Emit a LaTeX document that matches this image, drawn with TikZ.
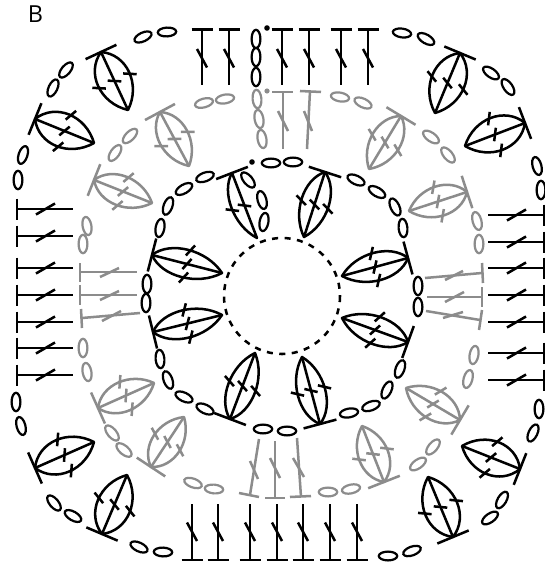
\documentclass[tikz,border=0pt]{standalone}
\usepackage{fontspec}
\setmainfont{Open Sans}
\definecolor{gr}{HTML}{8C8C8C}
\tikzset{
  inkline/.style={line width=2.15pt,line join=round},
  blk/.style={inkline,draw=black},
  gry/.style={inkline,draw=gr},
}
% base x,y ; tip x,y ; bulge ; style
\newcommand\leafmark[6]{%
  \pgfmathsetmacro\lang{atan2(#2-#4,#3-#1)}%
  \pgfmathsetmacro\llen{veclen(#3-#1,#4-#2)}%
  \pgfmathsetmacro\lctl{#5*1.333}%
  \begin{scope}[shift={(#1,#2)},rotate=\lang]
    \draw[#6] (0,0) .. controls (.2*\llen,\lctl) and (.72*\llen,\lctl) .. (\llen,0)
                    .. controls (.72*\llen,-\lctl) and (.2*\llen,-\lctl) .. cycle;
    \draw[#6] (0,0) -- (\llen,0);
    \draw[#6] (0,-17) -- (0,17);
    \foreach \s in {-1,0,1}{
      \draw[#6] (.5*\llen-3.2,\s*#5+6) -- (.5*\llen+3.2,\s*#5-6);
    }
  \end{scope}}
% half leaf: one arc, the main line, bar and two ticks
\newcommand\halfleaf[6]{%
  \pgfmathsetmacro\lang{atan2(#2-#4,#3-#1)}%
  \pgfmathsetmacro\llen{veclen(#3-#1,#4-#2)}%
  \pgfmathsetmacro\lctl{#5*1.333}%
  \begin{scope}[shift={(#1,#2)},rotate=\lang]
    \draw[#6] (0,0) .. controls (.2*\llen,\lctl) and (.72*\llen,\lctl) .. (\llen,0) -- cycle;
    \draw[#6] (0,-17) -- (0,17);
    \foreach \s in {0,1}{
      \draw[#6] (.5*\llen-3.2,\s*#5+6) -- (.5*\llen+3.2,\s*#5-6);
    }
  \end{scope}}
% screen-angle ovals
\newcommand\ovals[2]{%
  \foreach \x/\y/\a in {#2}{
    \draw[#1,line width=1.9pt,shift={(\x,\y)},rotate=-\a] (0,0) ellipse (9.2 and 4.4);
  }}
\begin{document}
\begin{tikzpicture}[x=0.03cm,y=-0.03cm]
\useasboundingbox (0,0) rectangle (545,564);
\node[anchor=center,font=\fontsize{20}{24}\selectfont,inner sep=0pt] (label) at (35.5,14.5) {B};

% dashed central ring
\draw[blk,dash pattern=on 5.2pt off 5.5pt] (282,296) circle (58);

% black leaves
\leafmark{101}{52}{128}{110}{17}{blk}
\leafmark{35}{119}{94}{143}{17}{blk}
\leafmark{460}{53}{435}{113}{17}{blk}
\leafmark{525}{123}{465}{146}{17}{blk}
\leafmark{35}{468}{94}{442}{17}{blk}
\leafmark{102}{534}{127}{475}{17}{blk}
\leafmark{520}{469}{462}{446}{17}{blk}
\leafmark{453}{537}{428}{477}{17}{blk}
% grey leaves
\leafmark{160}{112}{189}{166}{15}{gry}
\leafmark{94}{180}{152}{203}{15}{gry}
\leafmark{401}{116}{369}{169}{15}{gry}
\leafmark{467}{192}{409}{211}{15}{gry}
\leafmark{98}{408}{154}{383}{15}{gry}
\leafmark{151}{467}{184}{417}{15}{gry}
\leafmark{460}{420}{406}{388}{15}{gry}
\leafmark{384}{482}{362}{426}{15}{gry}
% inner leaves
\leafmark{152}{255}{222}{273}{14}{blk}
\halfleaf{232}{173}{257}{238}{13}{blk}
\leafmark{325}{172}{304}{237}{14}{blk}
\leafmark{408}{258}{342}{276}{14}{blk}
\leafmark{153}{332}{222}{315}{14}{blk}
\leafmark{230}{419}{255}{353}{14}{blk}
\leafmark{408}{342}{342}{318}{14}{blk}
\leafmark{320}{424}{302}{357}{14}{blk}

% chain ovals
\ovals{black}{143/37/-25,167/32/-3,66/70/-50,53/88/-65,23/155/-72,18/180/90,
  256/39/90,256/57/90,256/77/90,402/33/8,426/39/30,491/73/35,508/87/55,537/166/75,541/190/90,
  16/402/90,21/426/75,54/503/50,73/516/30,139/547/25,163/552/2,
  388/556/0,412/551/-20,490/518/-35,502/500/-60,533/433/-65,539/409/90,
  271/163/0,293/162/0,205/177/-20,184/189/-30,168/206/-70,160/228/-80,147/284/90,146/303/90,
  248/180/50,262/200/75,264/222/100,
  356/180/25,377/192/30,395/207/65,403/228/85,418/286/90,418/307/90,
  160/359/85,168/380/70,184/397/25,205/409/25,263/429/0,287/431/0,
  349/413/-10,371/406/-20,387/390/-65,400/369/-70}
\ovals{gr}{204/103/-15,225/99/-10,115/153/-55,130/136/-45,87/226/80,83/244/90,
  257/99/85,259/119/80,262/139/80,
  340/97/10,363/103/25,431/137/35,448/155/50,477/221/75,479/244/90,
  83/348/90,87/372/80,112/433/50,124/450/40,193/483/20,214/489/5,
  328/492/0,351/489/-12,418/464/-35,433/447/-50,468/379/-75,474/355/-80}
\fill[black] (267,28) circle (2.8);
\fill[black] (252,162) circle (2.8);
\fill[gr] (267,91) circle (2.6);

% black stitches: top and bottom rows
\foreach \x in {202,229,282,309,341,368}{
  \draw[blk] (\x,29.5) -- (\x,85);
  \draw[blk] (\x-10.5,29.5) -- (\x+10.5,29.5);
  \draw[blk] (\x-5,49) -- (\x+5,67.5);
}
\foreach \x in {192,218,250,277,303,330,357}{
  \draw[blk] (\x,504) -- (\x,560);
  \draw[blk] (\x-10.5,560) -- (\x+10.5,560);
  \draw[blk] (\x-5,522.5) -- (\x+5,541);
}
% black stitches: side rows
\foreach \y in {209,236,268,295,322,348,375}{
  \draw[blk] (17,\y) -- (73,\y);
  \draw[blk] (17,\y-10.5) -- (17,\y+10.5);
  \draw[blk] (36,\y+5.5) -- (55,\y-5.5);
}
\foreach \y in {215,242,268,295,322,353,380}{
  \draw[blk] (488,\y) -- (544,\y);
  \draw[blk] (544,\y-10.5) -- (544,\y+10.5);
  \draw[blk] (507,\y+5.5) -- (526,\y-5.5);
}
% grey stitches: stem, bar, slash
\foreach \a/\b/\c/\d/\e/\f/\g/\h/\i/\j/\k/\l in {
  283/92/283/149/272/92/293/92/278/111/288/131,
  310/91/307/149/300/91/321/92/304/111/312/131,
  259/439/250/495/239/493/259/497/250/461/258/479,
  275/441/275/498/265/498/285/498/270/458/280/478,
  297/438/301/497/290/497/311/496/293/458/304/477,
  80/272/137/272/80/263/80/282/100/277/119/268,
  80/295/137/295/80/285/80/305/100/300/119/291,
  82/318/140/313/81/309/82/328/102/321/121/311,
  425/278/482/273/482/263/483/283/445/280/463/271,
  427/297/482/297/482/287/482/307/445/302/464/292,
  426/311/480/320/482/310/479/330/443/318/463/312}{
  \draw[gry] (\a,\b) -- (\c,\d);
  \draw[gry] (\e,\f) -- (\g,\h);
  \draw[gry] (\i,\j) -- (\k,\l);
}
\end{tikzpicture}
\end{document}
